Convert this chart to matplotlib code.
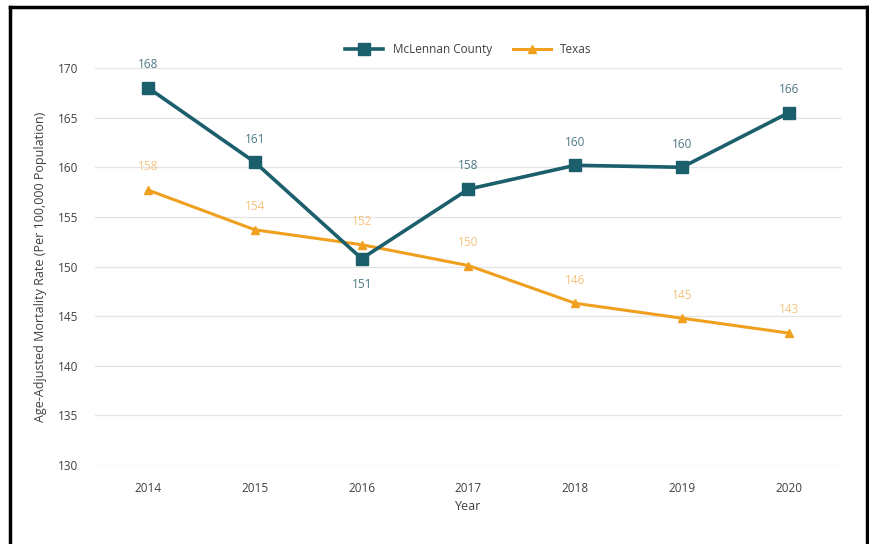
import matplotlib
matplotlib.use("Agg")
import matplotlib.pyplot as plt
from matplotlib.lines import Line2D

years = ["2014", "2015", "2016", "2017", "2018", "2019", "2020"]
mclennan = [168.0, 160.5, 150.8, 157.8, 160.2, 160.0, 165.5]
mclennan_labels = ["168", "161", "151", "158", "160", "160", "166"]
texas = [157.7, 153.7, 152.2, 150.1, 146.3, 144.8, 143.3]
texas_labels = ["158", "154", "152", "150", "146", "145", "143"]
y_ticks = [130, 135, 140, 145, 150, 155, 160, 165, 170]

teal = "#1b5e6c"
orange = "#f0a01e"

plt.rcParams["font.family"] = ["Open Sans", "DejaVu Sans"]

fig = plt.figure(figsize=(8.7, 5.44), dpi=100)
ax = fig.add_axes([0.109, 0.145, 0.859, 0.730])

x = list(range(len(years)))
ax.plot(x, mclennan, color=teal, lw=2.6, marker="s", ms=8, label="McLennan County", zorder=4)
ax.plot(x, texas, color=orange, lw=2.2, marker="^", ms=6, label="Texas", zorder=3)

for i, (v, t) in enumerate(zip(mclennan, mclennan_labels)):
    if i == 2:
        ax.annotate(t, (i, v), xytext=(0, -14), textcoords="offset points",
                    ha="center", va="top", fontsize=8.5, color="#4c7884")
    else:
        ax.annotate(t, (i, v), xytext=(0, 12), textcoords="offset points",
                    ha="center", va="bottom", fontsize=8.5, color="#4c7884")

for i, (v, t) in enumerate(zip(texas, texas_labels)):
    ax.annotate(t, (i, v), xytext=(0, 12), textcoords="offset points",
                ha="center", va="bottom", fontsize=8.5, color="#f5c27c")

ax.set_xlim(-0.5, len(years) - 0.5)
ax.set_ylim(130, 170)
ax.set_yticks(y_ticks)
ax.set_xticks(x)
ax.set_xticklabels(years)
ax.tick_params(axis="both", length=0, labelsize=8.5, labelcolor="#404040")
ax.tick_params(axis="y", pad=12)
ax.tick_params(axis="x", pad=12)
ax.yaxis.grid(True, color="#e4e4e4", lw=0.9)
ax.set_axisbelow(True)
for s in ax.spines.values():
    s.set_visible(False)

ax.set_xlabel("Year", fontsize=9, color="#404040", labelpad=4)
ax.set_ylabel("Age-Adjusted Mortality Rate (Per 100,000 Population)", fontsize=9,
              color="#404040", labelpad=8)

ax.legend(loc="lower center", bbox_to_anchor=(0.5, 1.0), ncol=2, frameon=False,
          fontsize=8.5, handlelength=3.2, columnspacing=1.8, borderaxespad=0.6,
          labelcolor="#404040")

# frame drawn around the figure (left, top, right edges)
for xs, ys in [([0.011, 0.011], [0.0, 0.987]),
               ([0.011, 0.997], [0.987, 0.987]),
               ([0.997, 0.997], [0.0, 0.987])]:
    fig.add_artist(Line2D(xs, ys, transform=fig.transFigure, color="black", lw=2.5))

fig.savefig("out.png", dpi=100, facecolor="white")
